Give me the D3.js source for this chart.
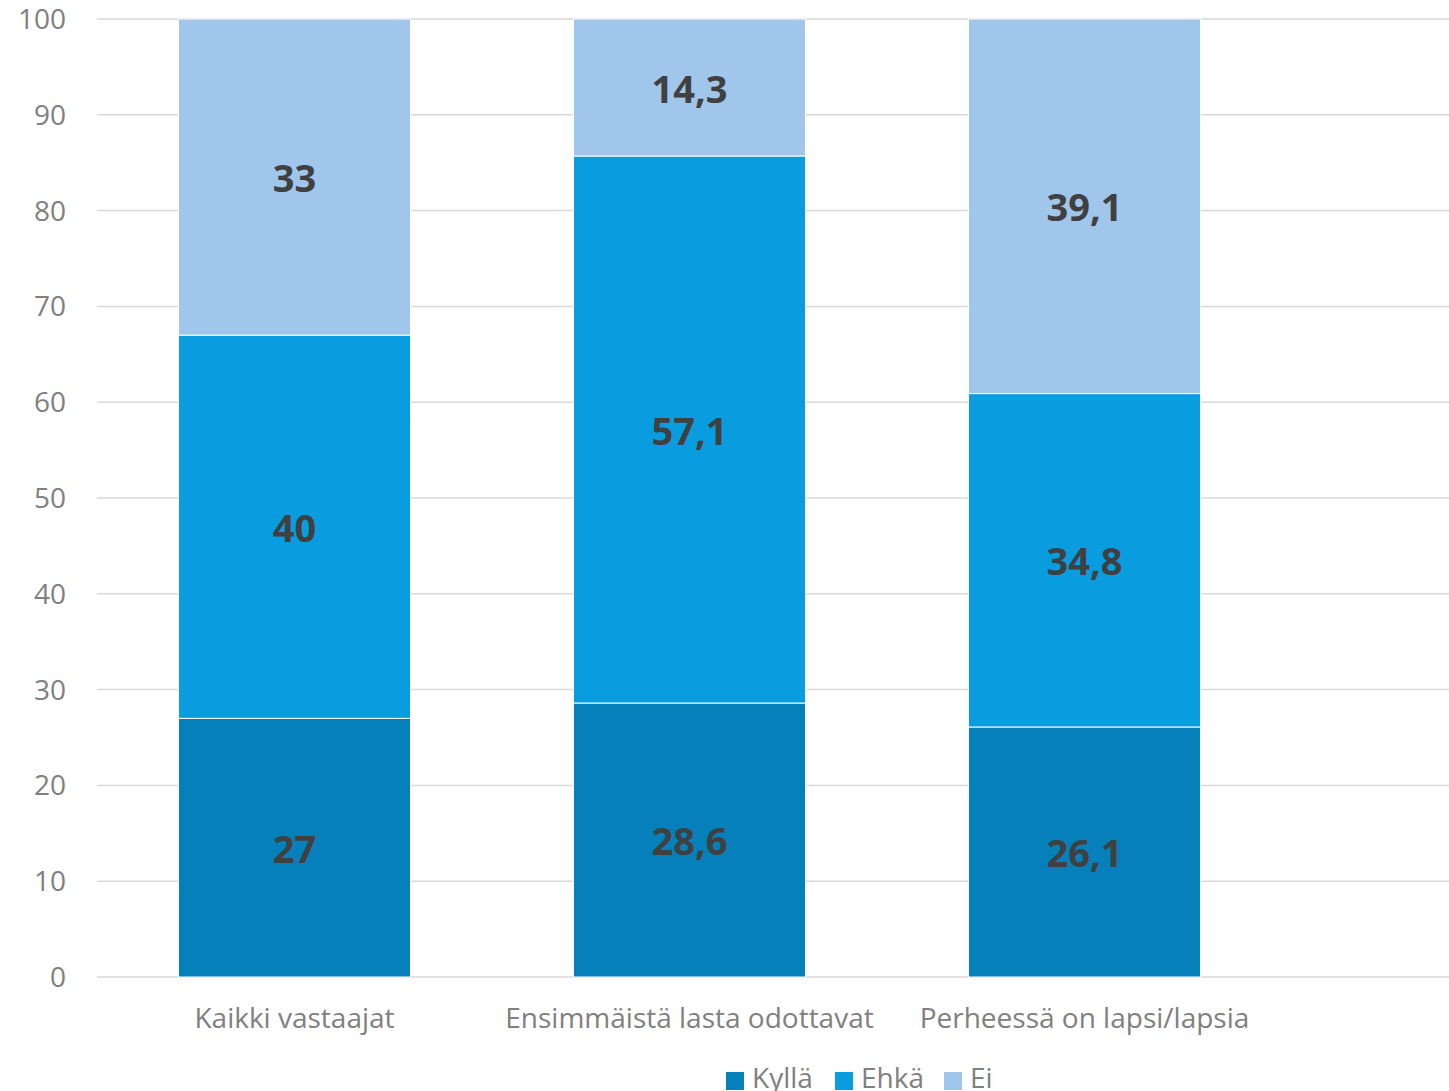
<!DOCTYPE html>
<html><head><meta charset="utf-8">
<script src="https://cdn.jsdelivr.net/npm/d3@7"></script>
<style>html,body{margin:0;padding:0;background:#fff;}svg{display:block;}</style>
</head><body>
<svg id="c" width="1449" height="1091"></svg>
<script>
const categories = ["Kaikki vastaajat", "Ensimmäistä lasta odottavat", "Perheessä on lapsi/lapsia"];
const seriesNames = ["Kyllä", "Ehkä", "Ei"];
const kylla = [27, 28.6, 26.1];
const ehka = [40, 57.1, 34.8];
const ei = [33, 14.3, 39.1];
const yTicks = [0, 10, 20, 30, 40, 50, 60, 70, 80, 90, 100];
const colors = ["#0580BA", "#099DE0", "#A1C6EC"];

(function () {
const svg = d3.select("#c");
const pLeft = 97, pRight = 1449, pTop = 19, pBottom = 977;
const font = "'Open Sans', sans-serif";

const x = d3.scaleBand().domain(categories).range([pLeft, pLeft + 395 * 3]).paddingInner(0.4125).paddingOuter(0.20625);
const y = d3.scaleLinear().domain([0, 100]).range([pBottom, pTop]);

svg.append("g").selectAll("line").data(yTicks).join("line")
  .attr("x1", pLeft).attr("x2", pRight)
  .attr("y1", d => y(d)).attr("y2", d => y(d))
  .attr("stroke", "#d9d9d9").attr("stroke-width", 1.5);

svg.append("g").selectAll("text").data(yTicks).join("text")
  .attr("x", 66).attr("y", d => y(d)).attr("dy", "0.36em")
  .attr("text-anchor", "end").attr("font-family", font).attr("font-size", 28)
  .attr("fill", "#808080").text(d => d);

const rows = categories.map((c, i) => ({cat: c, "Kyllä": kylla[i], "Ehkä": ehka[i], "Ei": ei[i]}));
const stack = d3.stack().keys(seriesNames)(rows);

const g = svg.append("g");
stack.forEach((s, si) => {
  g.append("g").selectAll("rect").data(s).join("rect")
    .attr("x", d => x(d.data.cat)).attr("width", x.bandwidth())
    .attr("y", d => y(d[1])).attr("height", d => y(d[0]) - y(d[1]))
    .attr("fill", colors[si]).attr("stroke", "#ffffff").attr("stroke-width", 1);
});
stack.forEach((s, si) => {
  g.append("g").selectAll("text").data(s).join("text")
    .attr("x", d => x(d.data.cat) + x.bandwidth() / 2)
    .attr("y", d => (y(d[0]) + y(d[1])) / 2).attr("dy", "0.4em")
    .attr("text-anchor", "middle").attr("font-family", font).attr("font-weight", "bold")
    .attr("font-size", 38).attr("fill", "#404040")
    .text(d => String(d.data[seriesNames[si]]).replace(".", ","));
});

svg.append("g").selectAll("text").data(categories).join("text")
  .attr("x", d => x(d) + x.bandwidth() / 2).attr("y", 1028)
  .attr("text-anchor", "middle").attr("font-family", font).attr("font-size", 28)
  .attr("fill", "#808080").text(d => d);

const legendX = [726, 835, 944];
const lg = svg.append("g");
seriesNames.forEach((n, i) => {
  lg.append("rect").attr("x", legendX[i]).attr("y", 1072).attr("width", 18).attr("height", 18).attr("fill", colors[i]);
  lg.append("text").attr("x", legendX[i] + 26).attr("y", 1088).attr("font-family", font).attr("font-size", 28)
    .attr("fill", "#808080").text(n);
});
})();
</script>
</body></html>
